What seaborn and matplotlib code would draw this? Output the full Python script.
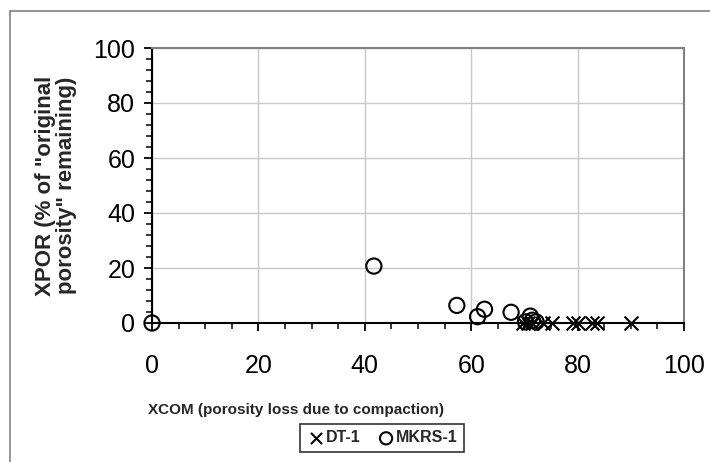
import numpy as np
import pandas as pd
import matplotlib
matplotlib.use('Agg')
import matplotlib.pyplot as plt
import seaborn as sns
from matplotlib.ticker import MultipleLocator
from matplotlib.patches import Rectangle

# DT-1 (crosses)
dt_xcom = [69.7, 70.7, 71.4, 73.5, 75.2, 79.1, 80.1, 82.7, 83.6, 90.0]
dt_xpor = [0, 0, 0, 0, 0, 0, 0, 0, 0, 0]
# MKRS-1 (circles)
mk_xcom = [0, 41.7, 57.3, 61.2, 62.5, 67.5, 71.1, 70.2, 72.2, 71.5]
mk_xpor = [0, 20.7, 6.4, 2.3, 5.0, 3.9, 2.5, 0.4, 0.4, 1.0]

df = pd.DataFrame({
    'xcom': dt_xcom + mk_xcom,
    'xpor': dt_xpor + mk_xpor,
    'well': ['DT-1'] * len(dt_xcom) + ['MKRS-1'] * len(mk_xcom),
})

sns.set_style('white')
plt.rcParams['font.family'] = ['Liberation Sans', 'DejaVu Sans']

fig = plt.figure(figsize=(7.1, 4.62), dpi=100)
ax = fig.add_axes([152 / 710, 1 - 323 / 462, 532 / 710, 275 / 462])

# outer chart border
fig.patches.append(Rectangle((10 / 710, -0.1), 1.2, 1 - 11 / 462 + 0.1,
                             transform=fig.transFigure, fill=False,
                             edgecolor='#808080', lw=1.2))

for well, mk in [('DT-1', 'x'), ('MKRS-1', 'o')]:
    d = df[df['well'] == well]
    if mk == 'o':
        sns.scatterplot(x='xcom', y='xpor', data=d, ax=ax, marker='o', s=120,
                        facecolors='none', edgecolor='black', linewidth=1.5,
                        label=well, clip_on=False, zorder=3)
    else:
        sns.scatterplot(x='xcom', y='xpor', data=d, ax=ax, marker='x', s=100,
                        color='black', linewidth=1.5, label=well,
                        clip_on=False, zorder=3)

ax.set_xlim(0, 100)
ax.set_ylim(0, 100)
ax.xaxis.set_major_locator(MultipleLocator(20))
ax.xaxis.set_minor_locator(MultipleLocator(5))
ax.yaxis.set_major_locator(MultipleLocator(20))
ax.yaxis.set_minor_locator(MultipleLocator(4))
ax.grid(True, which='major', color='#c8c8c8', lw=1)
ax.set_axisbelow(True)

for s in ['left', 'bottom']:
    ax.spines[s].set_color('black')
    ax.spines[s].set_linewidth(1.5)
for s in ['top', 'right']:
    ax.spines[s].set_color('#808080')
    ax.spines[s].set_linewidth(1.5)

ax.tick_params(which='major', direction='out', length=6, width=1.3,
               labelsize=18, colors='black', bottom=True, left=True)
ax.tick_params(which='minor', direction='out', length=4, width=1.3,
               bottom=True, left=True)
ax.tick_params(axis='x', pad=16)
ax.tick_params(axis='y', pad=6)

ax.set_xlabel('XCOM (porosity loss due to compaction)', fontsize=11,
              fontweight='bold')
ax.xaxis.set_label_coords(0.27, -0.29)
ax.set_ylabel('XPOR (% of "original\nporosity" remaining)', fontsize=16,
              fontweight='bold', linespacing=1.0)
ax.yaxis.set_label_coords(-0.141, 0.5)

leg = ax.legend(loc='center', bbox_to_anchor=(382 / 710, 1 - 438 / 462),
                bbox_transform=fig.transFigure, ncol=2, frameon=True,
                fancybox=False, edgecolor='black', handletextpad=0.0,
                columnspacing=1.0, borderpad=0.4, handlelength=1.2,
                markerscale=0.8,
                prop={'weight': 'bold', 'size': 11.5})
leg.get_frame().set_linewidth(1.2)

fig.savefig('out.png', dpi=100)
